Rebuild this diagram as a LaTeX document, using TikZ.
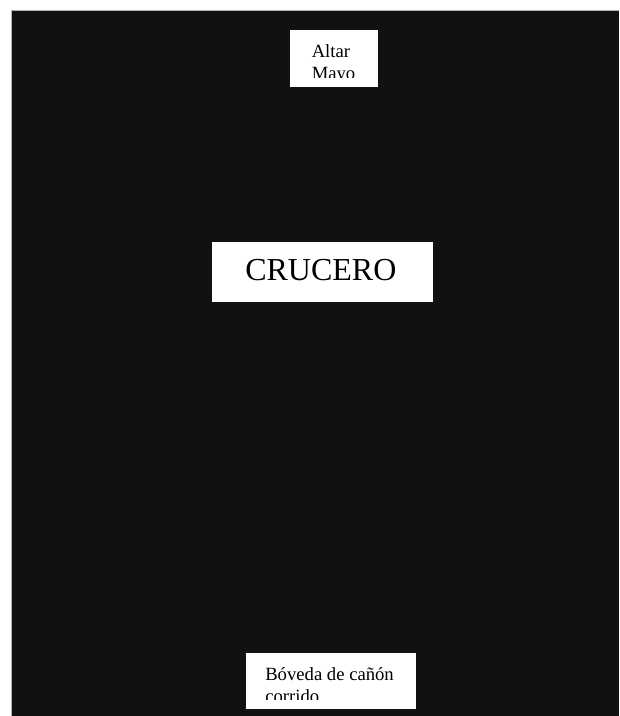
\documentclass[tikz,border=0pt]{standalone}
\usepackage{fontspec}
\setmainfont{Liberation Serif}
\usepackage{tikz}
\usepackage{xcolor}
\definecolor{nave}{HTML}{111111}

\tikzset{
  whitebox/.style={fill=white,draw=none,inner sep=0pt},
  lbl/.style={inner sep=0pt,anchor=base west,font=\fontsize{14}{17}\selectfont},
  biglbl/.style={inner sep=0pt,anchor=base west,font=\fontsize{24}{29}\selectfont}
}

\begin{document}
\begin{tikzpicture}[x=0.75pt,y=-0.75pt]
\useasboundingbox (0,0) rectangle (619,716);
\fill[white] (0,0) rectangle (619,716);
\fill[nave] (11,10) rectangle (619,716);
\draw[gray!60,line width=0.5pt] (11,716) -- (11,10) -- (619,10);
% boxes
\node[whitebox,minimum width=66pt,minimum height=42.5pt] (altar) at (334,58.5) {};
\node[whitebox,minimum width=165.75pt,minimum height=45pt] (crucero) at (322.5,272) {};
\node[whitebox,minimum width=127.5pt,minimum height=42pt] (boveda) at (331,681) {};
% texts, cut short inside the boxes
\begin{scope}
\clip ([yshift=7pt]altar.south west) rectangle (altar.north east);
\node[lbl] (altarA) at (311.5,57.5) {Altar};
\node[lbl] (altarB) at (311.5,79.5) {Mayo};
\end{scope}
\node[biglbl] (cruceroT) at (245,280) {CRUCERO};
\begin{scope}
\clip ([yshift=7.5pt]boveda.south west) rectangle (boveda.north east);
\node[lbl] (bovedaA) at (265,680) {Bóveda de cañón};
\node[lbl] (bovedaB) at (265,702) {corrido};
\end{scope}
\end{tikzpicture}
\end{document}
